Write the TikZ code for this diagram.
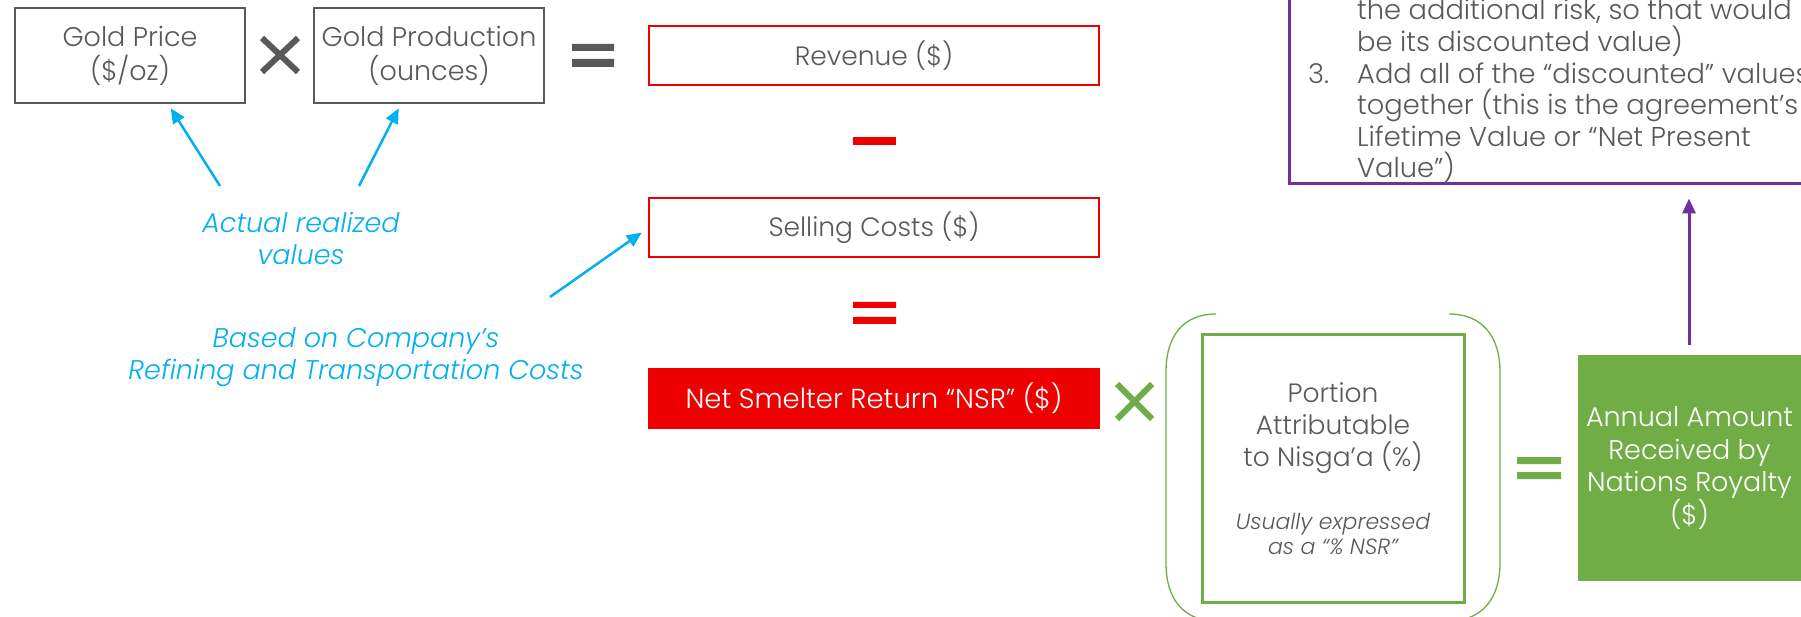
\documentclass[tikz,border=0pt]{standalone}
\usepackage{fontspec}
\setmainfont{Poppins}[UprightFont={* Light}, ItalicFont={* Light Italic}]
\usetikzlibrary{arrows.meta}
\definecolor{tgrey}{HTML}{595959}
\definecolor{bred}{HTML}{EE0000}
\definecolor{bcyan}{HTML}{00B0F0}
\definecolor{bgreen}{HTML}{70AD47}
\definecolor{bpurple}{HTML}{7030A0}
\begin{document}
\begin{tikzpicture}[x=1pt,y=-1pt,
  greybox/.style={draw=tgrey, line width=2.5pt, text=tgrey, minimum width=230pt, minimum height=95pt, align=center, inner sep=0pt, font=\fontsize{27}{34}\selectfont},
  redbox/.style={draw=bred, line width=2.5pt, text=tgrey, minimum width=450pt, minimum height=59pt, align=center, inner sep=0pt, font=\fontsize{26.5}{32}\selectfont},
  redfill/.style={fill=bred, text=white, minimum width=452pt, minimum height=61pt, align=center, inner sep=0pt, font=\fontsize{27.5}{32}\selectfont},
  greenbox/.style={draw=bgreen, line width=3pt, text=tgrey, minimum width=262pt, minimum height=267pt, align=center, inner sep=0pt},
  greenfill/.style={fill=bgreen, text=white, minimum width=223pt, minimum height=225pt, align=center, inner sep=0pt, font=\fontsize{27}{32.5}\selectfont},
  purplebox/.style={draw=bpurple, line width=3pt, minimum width=561pt, minimum height=264pt, inner sep=0pt},
  ptext/.style={anchor=base west, text=tgrey, inner sep=0pt, font=\fontsize{27.3}{32}\selectfont},
  note/.style={text=bcyan, align=center, inner sep=0pt, font=\fontsize{27}{32}\selectfont\itshape},
  cyanarrow/.style={draw=bcyan, line width=2.5pt, -{Triangle[length=15pt,width=13pt]}},
  purplearrow/.style={draw=bpurple, line width=3pt, -{Triangle[length=15pt,width=13pt]}},
  opline/.style={line width=6pt},
  paren/.style={draw=bgreen, line width=1.3pt}
]
\useasboundingbox (0,0) rectangle (1801,617);
\clip (0,0) rectangle (1801,617);
\fill[white] (0,0) rectangle (1801,617);

% top row
\node[greybox] (gp) at (130,55.5) {Gold Price\\(\$/oz)};
\node[greybox] (gprod) at (429,55.5) {Gold Production\\(ounces)};
\draw[tgrey, opline] (262,38) -- (298,72) (262,72) -- (298,38);
\fill[tgrey] (572,44) rectangle (614,51) (572,59) rectangle (614,67);

% red column
\node[redbox] (rev) at (874,55.5) {Revenue (\$)};
\fill[bred] (853,137) rectangle (896,145);
\node[redbox] (sc) at (874,227.5) {Selling Costs (\$)};
\fill[bred] (853,302) rectangle (896,308) (853,317) rectangle (896,324);
\node[redfill] (nsr) at (874,398.5) {Net Smelter Return “NSR” (\$)};

% notes
\node[note] (actual) at (301,238) {Actual realized\\values};
\node[note] (based) at (356,357) {Based on Company’s\\Refining and Transportation Costs};
\coordinate (a1s) at (220,186);
\coordinate (a2s) at (359,186);
\coordinate (a3s) at (550,297);
\draw[cyanarrow] (a1s) -- ([shift={(157,4)}]gp.south west);
\draw[cyanarrow] (a2s) -- ([shift={(86,4)}]gprod.south west);
\draw[cyanarrow] (a3s) -- ([shift={(-6,5)}]sc.west);

% green part
\draw[bgreen, opline] (1117,384) -- (1152,419) (1117,419) -- (1152,384);
\draw[paren] (1216,314) .. controls (1184,314) and (1166,335) .. (1166,372) -- (1166,563) .. controls (1166,600) and (1184,619) .. (1212,621);
\draw[paren] (1449,314) .. controls (1481,314) and (1500,335) .. (1500,372) -- (1500,563) .. controls (1500,600) and (1481,619) .. (1453,621);
\node[greenbox] (portion) at (1333,468.5) {};
\node[text=tgrey, align=center, inner sep=0pt, font=\fontsize{26.5}{32}\selectfont] (ptitle) at (1333,428) {Portion\\Attributable\\to Nisga’a (\%)};
\node[text=tgrey, align=center, inner sep=0pt, font=\fontsize{22}{25.5}\selectfont\itshape] (pnote) at (1333,534) {Usually expressed\\as a “\% NSR”};
\fill[bgreen] (1517,457) rectangle (1561,464) (1517,472) rectangle (1561,479);
\node[greenfill] (ann) at (1689.5,468) {Annual Amount\\Received by\\Nations Royalty\\(\$)};

% purple box
\node[purplebox] (pb) at (1569.5,52) {};
\node[ptext] (l1) at (1357,20) {the additional risk, so that would};
\node[ptext] (l2) at (1357,52) {be its discounted value)};
\node[ptext] (n3) at (1308,84) {3.};
\node[ptext] (l3) at (1357,84) {Add all of the “discounted” values};
\node[ptext] (l4) at (1357,115) {together (this is the agreement’s};
\node[ptext] (l5) at (1357,147) {Lifetime Value or “Net Present};
\node[ptext] (l6) at (1357,178) {Value”)};
\coordinate (pa) at (1689,345);
\coordinate (pt) at ([shift={(0,13)}]pb.south);
\draw[purplearrow] (pa) -- (pa |- pt);
\end{tikzpicture}
\end{document}
